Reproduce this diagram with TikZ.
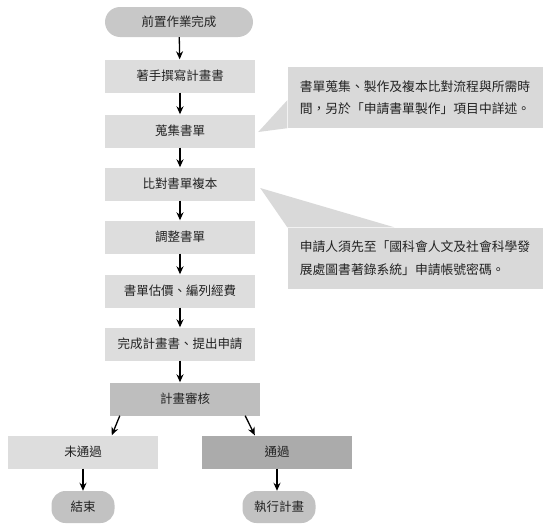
\documentclass[tikz,border=0pt]{standalone}
\usepackage{fontspec}
\newfontfamily\cjk{Noto Sans CJK TC}
\usetikzlibrary{arrows.meta}
\definecolor{termgray}{RGB}{200,200,200}
\definecolor{boxgray}{RGB}{221,221,221}
\definecolor{reviewgray}{RGB}{190,190,190}
\definecolor{passgray}{RGB}{171,171,171}
\definecolor{endgray}{RGB}{194,194,194}
\definecolor{notegray}{RGB}{217,217,217}
\definecolor{inkgray}{RGB}{34,34,34}

\begin{document}
\begin{tikzpicture}[x=1pt, y=-1pt,
  stepbox/.style={rectangle, fill=boxgray, minimum width=150pt, minimum height=33pt, inner sep=0pt, text=inkgray, font=\cjk\fontsize{12.5}{15}\selectfont},
  term/.style={stepbox, rounded corners=15pt, fill=termgray},
  note/.style={rectangle, fill=notegray, minimum width=255pt, minimum height=61pt, inner xsep=9pt, align=left, text=inkgray, font=\cjk\fontsize{12.8}{22.5}\selectfont},
  arrow/.style={-{Stealth[length=8pt,width=7pt]}, line width=1.3pt}
]
\useasboundingbox (0,0) rectangle (550,530);

% main column
\node[term, minimum width=148pt, minimum height=30pt] (start) at (179,22) {前置作業完成};
\node[stepbox] (write) at (180,76) {著手撰寫計畫書};
\node[stepbox] (collect) at (180,131) {蒐集書單};
\node[stepbox] (compare) at (180,184) {比對書單複本};
\node[stepbox] (adjust) at (180,237) {調整書單};
\node[stepbox] (budget) at (180,291) {書單估價、編列經費};
\node[stepbox] (submit) at (180,344) {完成計畫書、提出申請};
\node[stepbox, fill=reviewgray] (review) at (185,399) {計畫審核};

% outcomes
\node[stepbox] (fail) at (83,452) {未通過};
\node[stepbox, fill=passgray] (pass) at (277,452) {通過};
\node[term, fill=endgray, minimum width=63pt, minimum height=32pt, rounded corners=14pt] (stop) at (83,507) {結束};
\node[term, fill=endgray, minimum width=73pt, minimum height=32pt, rounded corners=14pt] (run) at (279,507) {執行計畫};

% notes
\node[note] (note1) at (415,97.5) {書單蒐集、製作及複本比對流程與所需時\\間，另於「申請書單製作」項目中詳述。};
\node[note] (note2) at (415,258) {申請人須先至「國科會人文及社會科學發\\展處圖書著錄系統」申請帳號密碼。};
\fill[notegray] (note1.south west) -- ([xshift=3pt,yshift=-1pt]collect.east) -- ([yshift=28pt]note1.south west) -- cycle;
\fill[notegray] (note2.north west) -- ([xshift=5pt,yshift=-4pt]compare.east) -- ([xshift=107pt]note2.north west) -- cycle;

\draw[arrow] (start) -- (write);
\draw[arrow] (write) -- (collect);
\draw[arrow] (collect) -- (compare);
\draw[arrow] (compare) -- (adjust);
\draw[arrow] (adjust) -- (budget);
\draw[arrow] (budget) -- (submit);
\draw[arrow] (submit.south) -- (submit.south |- review.north);
\draw[arrow] ([xshift=10pt]review.south west) -- ([xshift=104pt]fail.north west);
\draw[arrow] ([xshift=-15pt]review.south east) -- ([xshift=53pt]pass.north west);
\draw[arrow] (fail) -- (stop);
\draw[arrow] (pass.south) -- (pass.south |- run.north);
\end{tikzpicture}
\end{document}
